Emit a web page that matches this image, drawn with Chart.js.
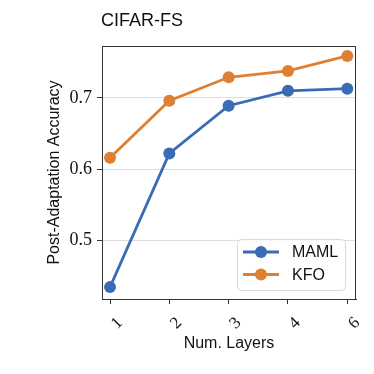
<!DOCTYPE html>
<html>
<head>
<meta charset="utf-8">
<script src="https://cdn.jsdelivr.net/npm/chart.js@4.4.0/dist/chart.umd.min.js"></script>
<style>
  html, body { margin: 0; padding: 0; background: #fff; }
  #wrap { width: 374px; height: 374px; }
</style>
</head>
<body>
<div id="wrap"><canvas id="acc_chart" width="374" height="374"></canvas></div>
<script>
const chartTitle = 'CIFAR-FS'
const layers = ['1', '2', '3', '4', '6']
const mamlAcc = [0.434, 0.622, 0.689, 0.710, 0.713]
const kfoAcc = [0.616, 0.696, 0.729, 0.738, 0.759]
const yTicks = [0.5, 0.6, 0.7]

const blue = '#3a6bb5'
const orange = '#de7f32'
const sans = "'Liberation Sans', Arial, sans-serif"
const serif = "'Liberation Serif', 'DejaVu Serif', serif"

const toPoints = (vals) => vals.map((v, i) => ({ x: i + 1, y: v }))

// frame, title and the legend box inside the plot
const extras = {
  id: 'extras',
  afterDraw(chart) {
    const { ctx, chartArea: a } = chart
    ctx.save()
    ctx.strokeStyle = '#333'
    ctx.lineWidth = 1
    ctx.strokeRect(a.left + 0.5, a.top + 0.5, a.right - a.left - 1, a.bottom - a.top)

    ctx.fillStyle = '#111'
    ctx.font = '18px ' + sans
    ctx.textBaseline = 'alphabetic'
    ctx.textAlign = 'left'
    ctx.fillText(chartTitle, 101, 26)

    // legend
    const bx = 237.5, by = 239.5, bw = 108, bh = 51
    ctx.beginPath()
    ctx.roundRect(bx, by, bw, bh, 4)
    ctx.fillStyle = 'rgba(255,255,255,0.85)'
    ctx.fill()
    ctx.strokeStyle = '#d9d9d9'
    ctx.stroke()
    chart.data.datasets.forEach((ds, i) => {
      const y = 252 + i * 22.5
      ctx.strokeStyle = ds.borderColor
      ctx.lineWidth = 2.8
      ctx.beginPath()
      ctx.moveTo(243, y)
      ctx.lineTo(279, y)
      ctx.stroke()
      ctx.beginPath()
      ctx.arc(261, y, 6, 0, Math.PI * 2)
      ctx.fillStyle = ds.borderColor
      ctx.fill()
      ctx.fillStyle = '#111'
      ctx.font = '16px ' + sans
      ctx.textBaseline = 'middle'
      ctx.fillText(ds.label, 292, y + 1)
    })
    ctx.restore()
  }
}

new Chart(document.getElementById('acc_chart'), {
  type: 'line',
  data: {
    datasets: [
      {
        label: 'MAML',
        data: toPoints(mamlAcc),
        borderColor: blue,
        backgroundColor: blue,
        borderWidth: 2.8,
        pointRadius: 6,
        pointBorderWidth: 0,
        pointHoverRadius: 6,
      },
      {
        label: 'KFO',
        data: toPoints(kfoAcc),
        borderColor: orange,
        backgroundColor: orange,
        borderWidth: 2.8,
        pointRadius: 6,
        pointBorderWidth: 0,
        pointHoverRadius: 6,
      }
    ]
  },
  options: {
    responsive: false,
    animation: false,
    events: [],
    layout: { padding: { top: 46, right: 18, left: 0, bottom: 0 } },
    plugins: {
      legend: { display: false },
      tooltip: { enabled: false },
      title: { display: false },
    },
    scales: {
      x: {
        type: 'linear',
        min: 0.865,
        max: 5.147,
        afterFit: (s) => { s.height = 75 },
        afterBuildTicks: (s) => { s.ticks = layers.map((_, i) => ({ value: i + 1 })) },
        ticks: {
          callback: (v) => layers[Math.round(v) - 1],
          minRotation: 45,
          maxRotation: 45,
          padding: 9,
          labelOffset: 10,
          color: '#111',
          font: { family: serif, size: 17 },
        },
        grid: { drawOnChartArea: false, drawTicks: true, tickLength: 5, tickColor: '#333' },
        border: { color: '#333' },
        title: {
          display: true,
          text: 'Num. Layers',
          color: '#111',
          font: { family: sans, size: 16 },
          padding: { top: 0, bottom: 21 },
        },
      },
      y: {
        min: 0.4173,
        max: 0.773,
        afterFit: (s) => { s.width = 102 },
        afterBuildTicks: (s) => { s.ticks = yTicks.map((v) => ({ value: v })) },
        ticks: {
          callback: (v) => v.toFixed(1),
          padding: 5,
          color: '#111',
          font: { family: serif, size: 18 },
        },
        grid: { color: '#dedede', tickLength: 5, tickColor: '#333' },
        border: { color: '#333' },
        title: {
          display: true,
          text: 'Post-Adaptation Accuracy',
          color: '#111',
          font: { family: sans, size: 16 },
          padding: { top: 45, bottom: 0 },
        },
      }
    }
  },
  plugins: [extras]
})
</script>
</body>
</html>
